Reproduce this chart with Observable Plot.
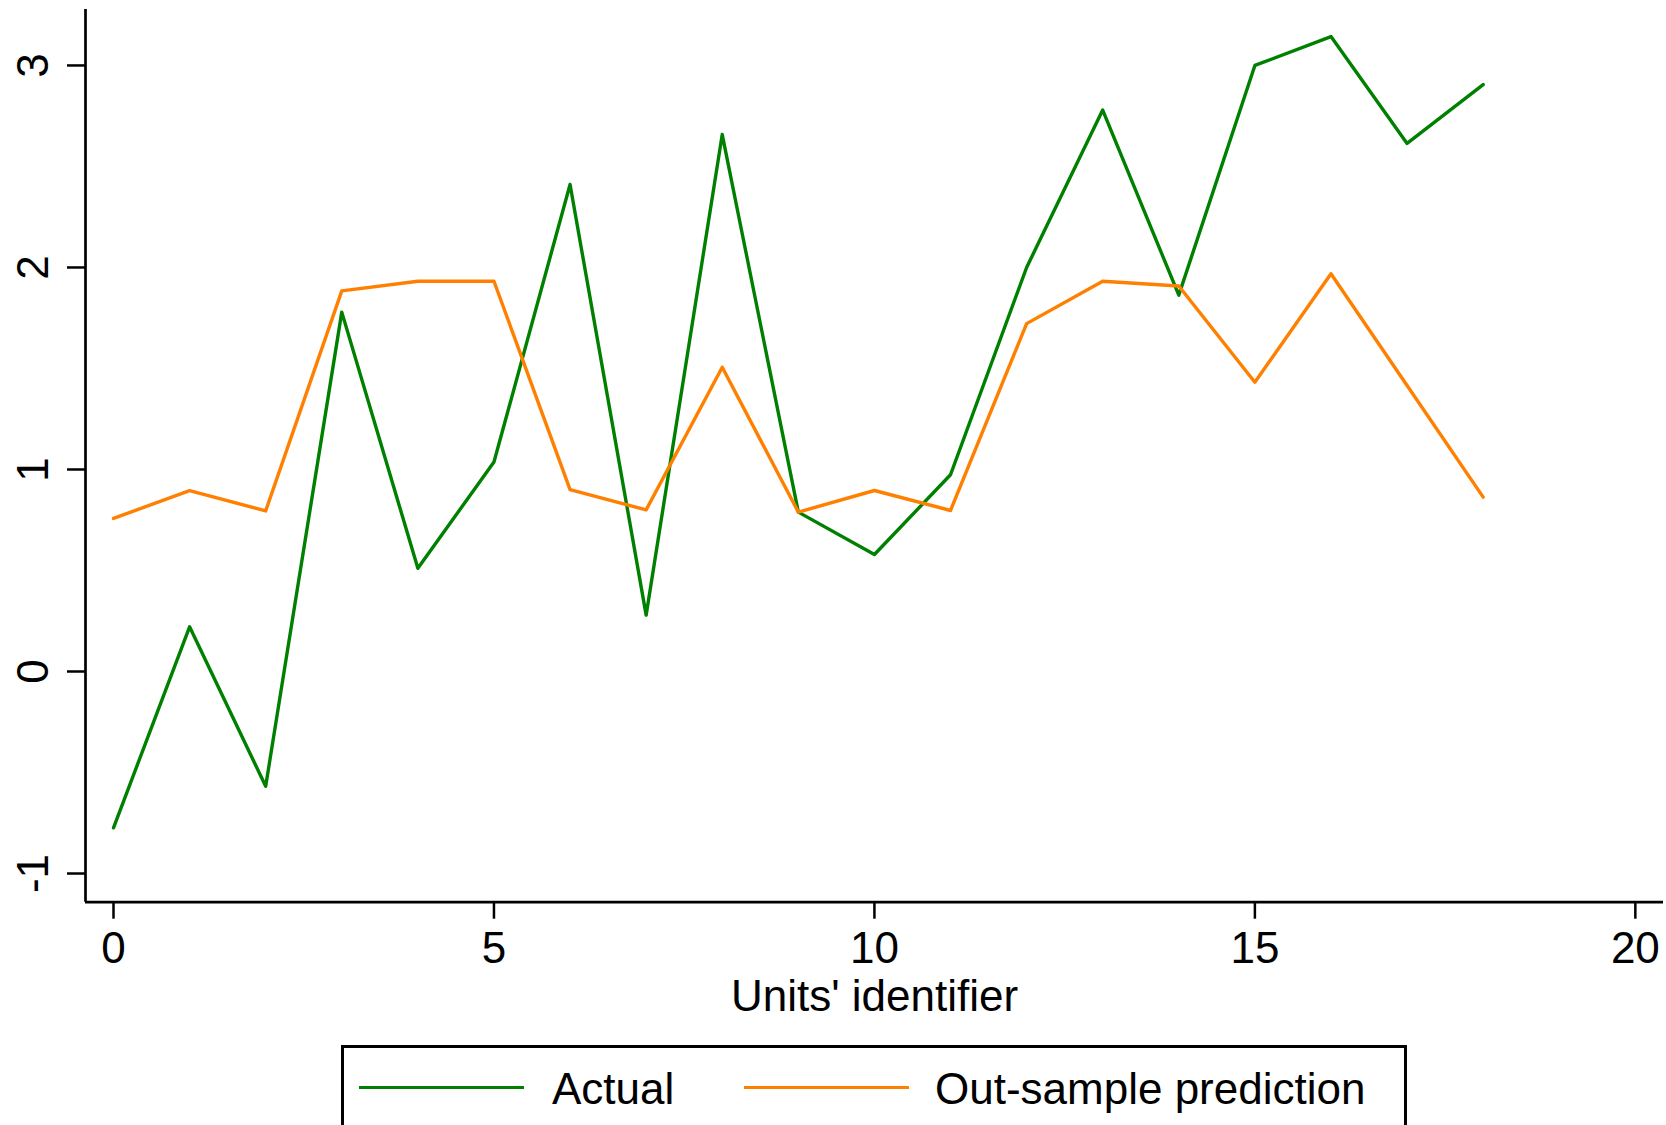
<!DOCTYPE html>
<html>
<head>
<meta charset="utf-8">
<script src="https://cdn.jsdelivr.net/npm/d3@7"></script>
<script src="https://cdn.jsdelivr.net/npm/@observablehq/plot@0.6"></script>
<style>
  html, body { margin: 0; padding: 0; background: #fff; }
  body { width: 1666px; height: 1125px; overflow: hidden; position: relative; font-family: "Liberation Sans", Arial, sans-serif; }
  #chart { position: absolute; left: 0; top: 0; }
  #legend { position: absolute; left: 341px; top: 1045px; width: 1066px; height: 130px; border: 3px solid #000; box-sizing: border-box; background: #fff; }
  .sw { position: absolute; height: 3.4px; top: 38px; }
  .lt { position: absolute; top: 19px; font-size: 44px; line-height: 44px; color: #000; white-space: nowrap; }
</style>
</head>
<body>
<div id="chart"></div>
<div id="legend"></div>
<script>
// ---- data ----
const units = [0, 1, 2, 3, 4, 5, 6, 7, 8, 9, 10, 11, 12, 13, 14, 15, 16, 17, 18];
const actual = [-0.774, 0.221, -0.568, 1.779, 0.511, 1.037, 2.411, 0.279, 2.658, 0.789, 0.579, 0.974, 2.0, 2.779, 1.863, 3.0, 3.143, 2.614, 2.905];
const prediction = [0.758, 0.895, 0.795, 1.884, 1.932, 1.932, 0.9, 0.8, 1.506, 0.789, 0.896, 0.797, 1.722, 1.932, 1.908, 1.432, 1.969, 1.416, 0.863];
const xTicks = [0, 5, 10, 15, 20];
const yTicks = [-1, 0, 1, 2, 3];
const seriesNames = ["Actual", "Out-sample prediction"];
const seriesColors = ["#008000", "#ff8000"];
const xLabel = "Units' identifier";

const xDomain = [-0.368, 20.37];
const yDomain = [-1.142, 3.277];

const actualData = units.map((u, i) => ({x: u, y: actual[i]}));
const predData = units.map((u, i) => ({x: u, y: prediction[i]}));

const chart = Plot.plot({
  width: 1666,
  height: 1040,
  marginLeft: 85,
  marginRight: 3,
  marginTop: 9,
  marginBottom: 138.3,
  style: {fontFamily: "'Liberation Sans', Arial, sans-serif", fontSize: "44px", color: "#000", background: "#fff", overflow: "visible"},
  x: {domain: xDomain},
  y: {domain: yDomain},
  marks: [
    Plot.axisX({ticks: xTicks, tickSize: 17, tickPadding: 13, fontSize: 44, strokeWidth: 2.5, tickFormat: d => String(d),
      label: xLabel, labelAnchor: "center", labelArrow: "none", labelOffset: 109}),
    Plot.axisY({ticks: yTicks, tickSize: 18, tickPadding: 20, tickRotate: -90, fontSize: 44, strokeWidth: 2.5,
      tickFormat: d => String(d), label: null}),
    Plot.ruleY([yDomain[0]], {stroke: "#000", strokeWidth: 2.7}),
    Plot.ruleX([xDomain[0]], {stroke: "#000", strokeWidth: 2.7}),
    Plot.line(actualData, {x: "x", y: "y", stroke: seriesColors[0], strokeWidth: 3.4}),
    Plot.line(predData, {x: "x", y: "y", stroke: seriesColors[1], strokeWidth: 3.4})
  ]
});
document.getElementById("chart").appendChild(chart);

// ---- legend ----
const legend = document.getElementById("legend");
const swLeft = [15, 400];
const txtLeft = [208, 591];
seriesNames.forEach((name, i) => {
  const sw = document.createElement("div");
  sw.className = "sw";
  sw.style.left = swLeft[i] + "px";
  sw.style.width = "165px";
  sw.style.background = seriesColors[i];
  legend.appendChild(sw);
  const t = document.createElement("div");
  t.className = "lt";
  t.style.left = txtLeft[i] + "px";
  t.textContent = name;
  legend.appendChild(t);
});
</script>
</body>
</html>
